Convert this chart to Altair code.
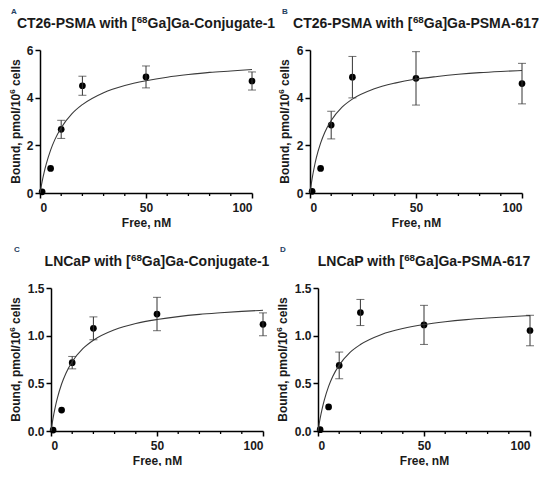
import altair as alt
import pandas as pd

# ---------------- data ----------------
letters = ["A", "B", "C", "D"]
# titles split around the superscript "68"
title_parts = [
    ("CT26-PSMA with [", "68", "Ga]Ga-Conjugate-1"),
    ("CT26-PSMA with [", "68", "Ga]Ga-PSMA-617"),
    ("LNCaP with [", "68", "Ga]Ga-Conjugate-1"),
    ("LNCaP with [", "68", "Ga]Ga-PSMA-617"),
]
free_nm = [1, 5, 10, 20, 50, 100]

a_bound = [0.05, 1.03, 2.67, 4.50, 4.87, 4.70]
a_err = [0.0, 0.0, 0.38, 0.40, 0.46, 0.38]
b_bound = [0.07, 1.03, 2.85, 4.86, 4.81, 4.59]
b_err = [0.0, 0.0, 0.58, 0.87, 1.12, 0.85]
c_bound = [0.01, 0.22, 0.717, 1.077, 1.227, 1.119]
c_err = [0.0, 0.0, 0.065, 0.12, 0.175, 0.12]
d_bound = [0.014, 0.253, 0.688, 1.243, 1.113, 1.054]
d_err = [0.0, 0.0, 0.14, 0.137, 0.205, 0.16]

# fitted saturation curves
curve_x = [0, 1, 2, 3, 5, 7, 10, 15, 20, 30, 40, 50, 60, 70, 80, 90, 100]
a_fit = [0, 0.48, 0.89, 1.23, 1.80, 2.24, 2.74, 3.32, 3.71, 4.21, 4.51, 4.71, 4.86, 4.97, 5.06, 5.12, 5.18]
b_fit = [0, 0.60, 1.08, 1.48, 2.09, 2.55, 3.04, 3.59, 3.94, 4.36, 4.61, 4.78, 4.89, 4.98, 5.05, 5.10, 5.14]
c_fit = [0, 0.138, 0.251, 0.345, 0.493, 0.604, 0.726, 0.863, 0.952, 1.062, 1.127, 1.169, 1.200, 1.223, 1.240, 1.255, 1.266]
d_fit = [0, 0.131, 0.238, 0.327, 0.468, 0.574, 0.691, 0.822, 0.907, 1.013, 1.075, 1.117, 1.146, 1.168, 1.185, 1.199, 1.210]

x_major = [0, 50, 100]
x_minor = [10, 20, 30, 40, 60, 70, 80, 90]
y_ticks_ct26 = [0, 2, 4, 6]
y_ticks_lncap = [0, 0.5, 1.0, 1.5]

x_title = "Free, nM"
y_title_parts = ("Bound, pmol/10", "6", "cells")

# ---------------- styling ----------------
W, H = 212, 143
FONT = "Liberation Sans"
INK = "#1a1a1a"
TITLE_SIZE, SUP_SIZE = 14, 9.8
YT_SIZE, YSUP_SIZE = 12, 8

# Arial/Liberation Sans Bold advance widths (per 1000 em)
_WID = {
    " ": 278, ",": 278, "-": 333, ".": 278, "/": 278, "[": 333, "]": 333,
    "A": 722, "C": 722, "G": 778, "L": 611, "M": 833, "N": 722, "P": 667, "S": 667, "T": 611, "B": 722,
    "a": 556, "c": 556, "d": 611, "e": 556, "g": 611, "h": 611, "i": 278, "j": 278, "l": 278,
    "m": 889, "n": 611, "o": 611, "p": 611, "s": 556, "t": 333, "u": 611, "w": 778,
}


def tw(s, size):
    return size * sum(_WID.get(ch, 556) for ch in s) / 1000.0


def text_layer(txt, x, y, size, align="left", baseline="alphabetic", angle=0, color=INK):
    mk = dict(font=FONT, fontSize=size, fontWeight="bold", color=color, align=align, baseline=baseline)
    if angle:
        mk["angle"] = angle
    return alt.Chart(pd.DataFrame({"t": [txt]})).mark_text(**mk).encode(
        text="t:N", x=alt.value(x), y=alt.value(y)
    )


def panel(letter, tparts, bound, err, fit, ymax, yticks, yfmt, letter_dx, ytitle_dx):
    pts = pd.DataFrame({"x": free_nm, "y": bound, "e": err})
    pts["lo"] = pts["y"] - pts["e"]
    pts["hi"] = pts["y"] + pts["e"]
    bars = pts[pts["e"] > 0]
    crv = pd.DataFrame({"x": curve_x, "y": fit})
    minor = pd.DataFrame({"x": x_minor})

    xs = alt.Scale(domain=[0, 100], nice=False, zero=False)
    ys = alt.Scale(domain=[0, ymax], nice=False, zero=False)

    xaxis = alt.Axis(values=x_major, title=x_title, format="d")
    yaxis = alt.Axis(values=yticks, title=None, format=yfmt)

    def X(f="x"):
        return alt.X(f"{f}:Q", scale=xs, axis=xaxis)

    def Y(f="y"):
        return alt.Y(f"{f}:Q", scale=ys, axis=yaxis)

    points = alt.Chart(pts).mark_circle(size=45, color="black", opacity=1).encode(x=X(), y=Y())
    curve = alt.Chart(crv).mark_line(color="#3a3a3a", strokeWidth=1.1, interpolate="monotone").encode(
        x=X(), y=Y()
    )
    rules = alt.Chart(bars).mark_rule(color="#333333", strokeWidth=1).encode(x=X(), y=Y("lo"), y2="hi:Q")
    cap_hi = alt.Chart(bars).mark_tick(color="#333333", orient="horizontal", size=8, thickness=1).encode(
        x=X(), y=Y("hi")
    )
    cap_lo = alt.Chart(bars).mark_tick(color="#333333", orient="horizontal", size=8, thickness=1).encode(
        x=X(), y=Y("lo")
    )
    minor_ticks = alt.Chart(minor).mark_rule(color="black", strokeWidth=1.3).encode(
        x=X(), y=alt.value(H), y2=alt.value(H + 3)
    )

    layers = [points, curve, rules, cap_hi, cap_lo, minor_ticks]

    # panel letter
    layers.append(text_layer(letter, letter_dx, -38, 8, align="center", baseline="middle", color="#24405e"))

    # title with a raised "68"
    p1, p2, p3 = tparts
    w1, w2, w3 = tw(p1, TITLE_SIZE), tw(p2, SUP_SIZE), tw(p3, TITLE_SIZE)
    x0 = W / 2 - (w1 + w2 + w3) / 2
    base = -22
    layers.append(text_layer(p1, x0, base, TITLE_SIZE))
    layers.append(text_layer(p2, x0 + w1, base - 5, SUP_SIZE))
    layers.append(text_layer(p3, x0 + w1 + w2, base, TITLE_SIZE))

    # rotated y title with a raised "6"
    q1, q2, q3 = y_title_parts
    v1, v2, vsp, v3 = tw(q1, YT_SIZE), tw(q2, YSUP_SIZE), tw(" ", YT_SIZE), tw(q3, YT_SIZE)
    start = H / 2 + (v1 + v2 + vsp + v3) / 2
    layers.append(text_layer(q1, ytitle_dx, start, YT_SIZE, baseline="middle", angle=270))
    layers.append(text_layer(q2, ytitle_dx - 3, start - v1, YSUP_SIZE, baseline="middle", angle=270))
    layers.append(text_layer(q3, ytitle_dx, start - v1 - v2 - vsp, YT_SIZE, baseline="middle", angle=270))

    return alt.layer(*layers).properties(width=W, height=H)


def spacer():
    return alt.Chart(pd.DataFrame({"t": [0]})).mark_rule(opacity=0, strokeWidth=0).encode(
        x=alt.value(0), x2=alt.value(1), y=alt.value(0)
    ).properties(width=1, height=1)


pA = panel(letters[0], title_parts[0], a_bound, a_err, a_fit, 6, y_ticks_ct26, "d", -26, -24)
pB = panel(letters[1], title_parts[1], b_bound, b_err, b_fit, 6, y_ticks_ct26, "d", -25, -25)
pC = panel(letters[2], title_parts[2], c_bound, c_err, c_fit, 1.5, y_ticks_lncap, ".1f", -34, -35)
pD = panel(letters[3], title_parts[3], d_bound, d_err, d_fit, 1.5, y_ticks_lncap, ".1f", -35, -35)

row1 = alt.hconcat(spacer(), alt.hconcat(pA, pB, spacing=2), spacing=0)
row2 = alt.hconcat(spacer(), alt.hconcat(pC, pD, spacing=6), spacing=0)

chart = alt.vconcat(row1, row2, spacing=18).properties(
    padding={"left": 0, "top": 0, "right": 0, "bottom": 0}
).configure_view(stroke=None).configure_axis(
    grid=False,
    domainColor="black",
    domainWidth=1.5,
    tickColor="black",
    tickWidth=1.5,
    tickSize=5,
    labelFont=FONT,
    labelFontSize=12,
    labelFontWeight="bold",
    labelColor=INK,
    labelPadding=4,
    titleFont=FONT,
    titleFontSize=12,
    titleFontWeight="bold",
    titleColor=INK,
    titlePadding=4,
).configure_axisY(labelPadding=2)

chart.save("out.html", embed_options={"renderer": "svg", "actions": False})
